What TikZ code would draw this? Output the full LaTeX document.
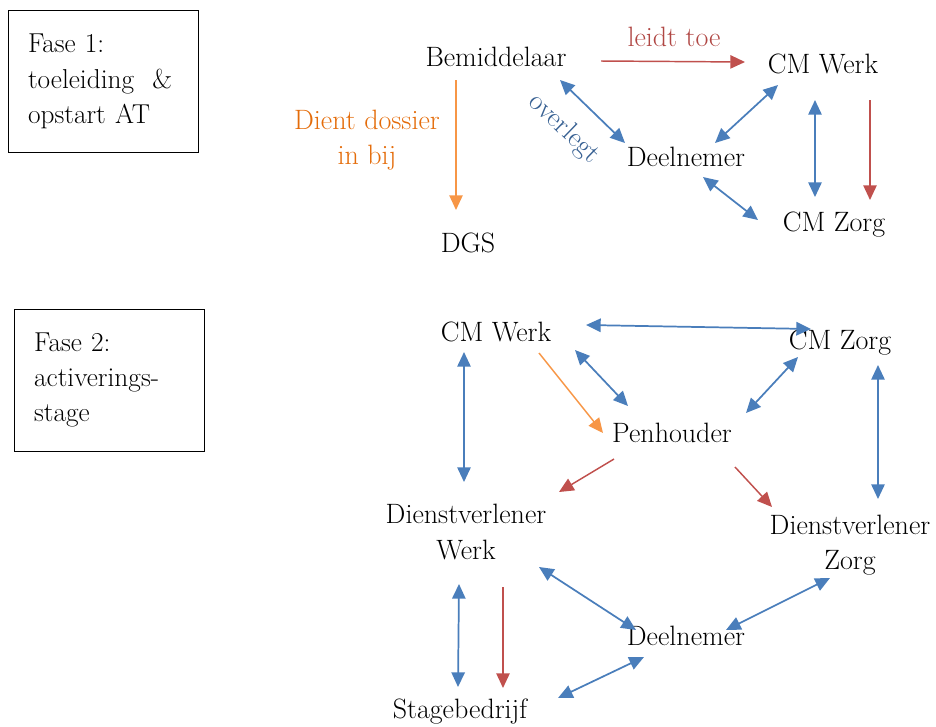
\documentclass[tikz,border=0pt]{standalone}
\usetikzlibrary{arrows.meta}
\definecolor{arrblue}{HTML}{4A7EBB}
\definecolor{arrred}{HTML}{C0504D}
\definecolor{arrorange}{HTML}{F79646}
\definecolor{txtred}{HTML}{B04744}
\definecolor{txtorange}{HTML}{E46C0A}
\definecolor{txtblue}{HTML}{376092}
\tikzset{
  lbl/.style={font=\fontsize{21}{26.5}\selectfont, inner sep=0pt, align=center},
  fasebox/.style={draw, line width=0.6pt, font=\fontsize{20.5}{26.5}\selectfont,
    align=left, inner xsep=15pt, inner ysep=0pt},
  twoway/.style={arrblue, line width=1.3pt, {Triangle[length=11pt,width=10pt]}-{Triangle[length=11pt,width=10pt]}},
  toered/.style={arrred, line width=1.1pt, -{Triangle[length=11pt,width=10pt]}},
  toeorange/.style={arrorange, line width=1.1pt, -{Triangle[length=11pt,width=10pt]}}
}
\begin{document}
\begin{tikzpicture}[x=0.75pt,y=-0.75pt]
\clip (0,0) rectangle (936,726);
% fase 1
\node[fasebox, text width=112.5pt, minimum width=142.5pt, minimum height=107pt] (fase1) at (103,81.5)
  {Fase 1:\\toeleiding\ \ \&\\opstart AT};
\node[lbl] (bem) at (496,57) {Bemiddelaar};
\node[lbl] (cmw) at (823,64) {CM Werk};
\node[lbl] (dln) at (686,157) {Deelnemer};
\node[lbl] (dgs) at (468,243) {DGS};
\node[lbl] (cmz) at (834,225) {CM Zorg};
\node[lbl, txtred] (leidt) at (674,37) {leidt toe};
\node[lbl, txtorange] (dient) at (367,140) {Dient dossier\\in bij};
\node[lbl, txtblue, rotate=-44] (overleg) at (564,129) {overlegt};
\draw[toered] ([shift={(105,4)}]bem.center) -- ([shift={(-78,-2)}]cmw.center);
\draw[toeorange] ([shift={(-40,23)}]bem.center) -- ([shift={(-12,-33)}]dgs.center);
\draw[twoway] ([shift={(64,23)}]bem.center) -- ([shift={(-61,-14)}]dln.center);
\draw[twoway] ([shift={(-45,21)}]cmw.center) -- ([shift={(29,-14)}]dln.center);
\draw[twoway] ([shift={(-8,36)}]cmw.center) -- ([shift={(-19,-28)}]cmz.center);
\draw[toered] ([shift={(47,36)}]cmw.center) -- ([shift={(36,-25)}]cmz.center);
\draw[twoway] ([shift={(17,20)}]dln.center) -- ([shift={(-76,-5)}]cmz.center);
% fase 2
\node[fasebox, text width=113pt, minimum width=143pt, minimum height=106.5pt] (fase2) at (109.5,380)
  {Fase 2:\\activerings-\\stage};
\node[lbl] (cmwb) at (496,332) {CM Werk};
\node[lbl] (cmzb) at (840,343) {CM Zorg};
\node[lbl] (pen) at (672,433) {Penhouder};
\node[lbl] (dvw) at (466,532) {Dienstverlener\\Werk};
\node[lbl] (dvz) at (850,545) {Dienstverlener\\Zorg};
\node[lbl] (dlnb) at (686,636) {Deelnemer};
\node[lbl] (stb) at (460,712) {Stagebedrijf};
\draw[twoway] ([shift={(90,-7)}]cmwb.center) -- ([shift={(-29,-14)}]cmzb.center);
\draw[twoway] ([shift={(-32,20)}]cmwb.center) -- ([shift={(-2,-50)}]dvw.center);
\draw[toeorange] ([shift={(43,21)}]cmwb.center) -- ([shift={(-69,0)}]pen.center);
\draw[twoway] ([shift={(79,18)}]cmwb.center) -- ([shift={(-44,-27)}]pen.center);
\draw[twoway] ([shift={(-42,14)}]cmzb.center) -- ([shift={(74,-20)}]pen.center);
\draw[twoway] ([shift={(38,22)}]cmzb.center) -- ([shift={(28,-46)}]dvz.center);
\draw[toered] ([shift={(-58,26)}]pen.center) -- ([shift={(93,-40)}]dvw.center);
\draw[toered] ([shift={(63,34)}]pen.center) -- ([shift={(-78,-38)}]dvz.center);
\draw[twoway] ([shift={(73,35)}]dvw.center) -- ([shift={(-50,-6)}]dlnb.center);
\draw[twoway] ([shift={(-20,33)}]dvz.center) -- ([shift={(40,-6)}]dlnb.center);
\draw[twoway] ([shift={(-7,52)}]dvw.center) -- ([shift={(-2,-25)}]stb.center);
\draw[toered] ([shift={(37,55)}]dvw.center) -- ([shift={(43,-24)}]stb.center);
\draw[twoway] ([shift={(-42,21)}]dlnb.center) -- ([shift={(98,-14)}]stb.center);
\end{tikzpicture}
\end{document}
